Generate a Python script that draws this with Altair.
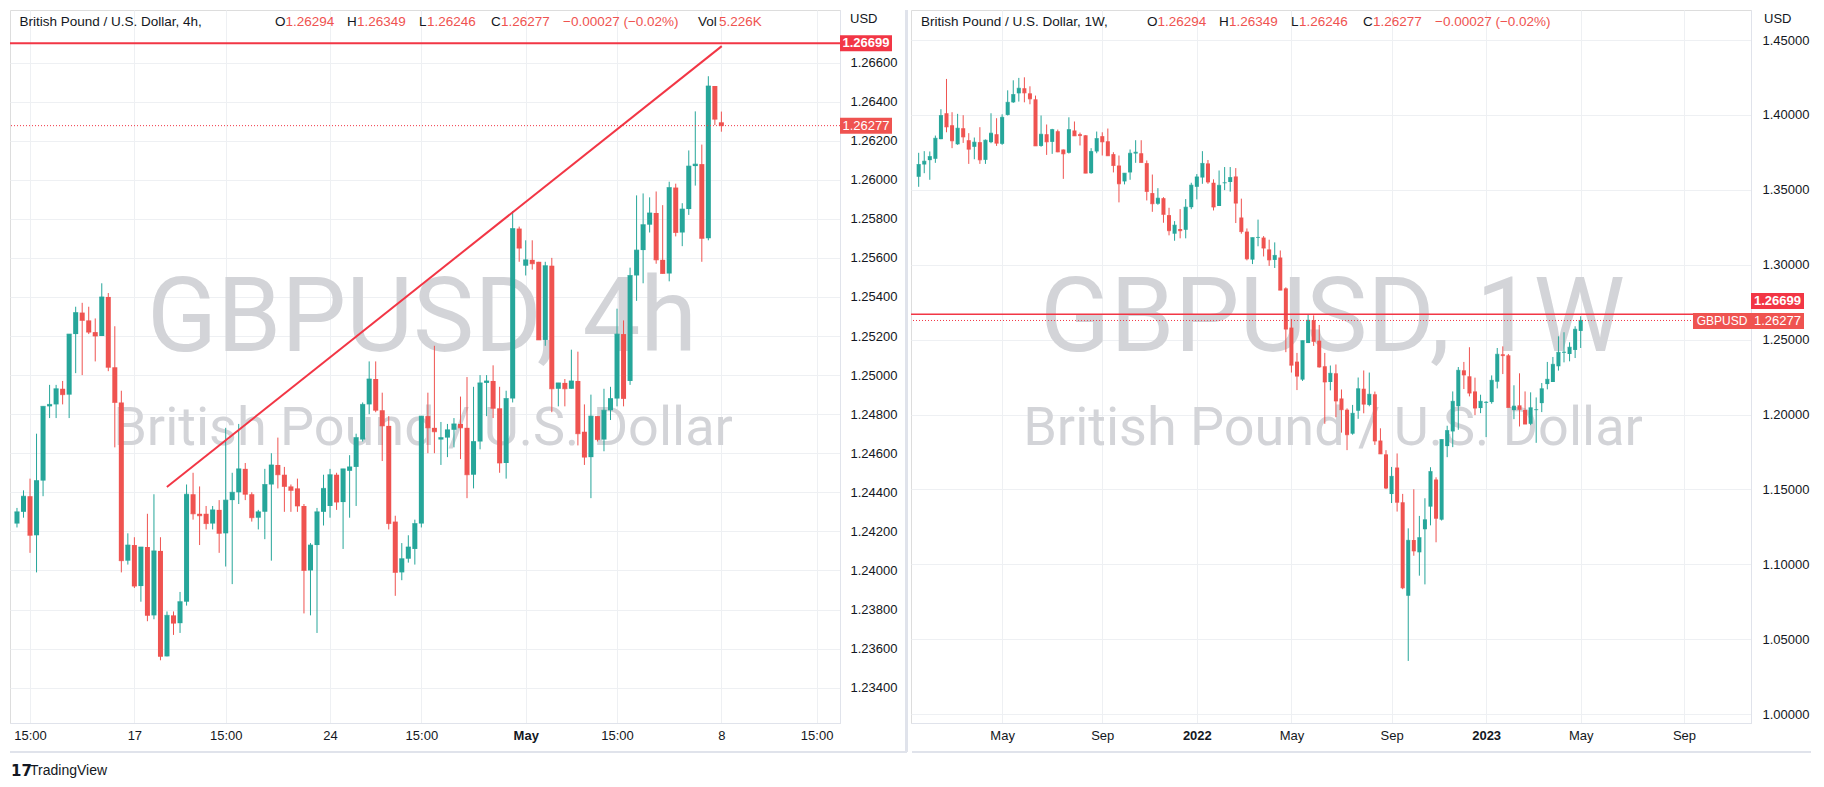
import altair as alt
import pandas as pd

# ---------------- data: GBPUSD 4h (left panel) ----------------
l_open = [1.2424,1.2430,1.2438,1.2418,1.2446,1.2484,1.2485,1.2493,1.2490,1.2521,
          1.2532,1.2528,1.2522,1.2520,1.2540,1.2504,1.2486,1.2405,1.2413,1.2392,
          1.2412,1.2377,1.2410,1.2356,1.2377,1.2373,1.2384,1.2439,1.2429,1.2429,
          1.2424,1.2431,1.2419,1.2436,1.2440,1.2452,1.2439,1.2427,1.2430,1.2444,
          1.2454,1.2449,1.2443,1.2442,1.2433,1.2400,1.2413,1.2430,1.2433,1.2449,
          1.2435,1.2451,1.2453,1.2467,1.2485,1.2498,1.2482,1.2474,1.2425,1.2399,
          1.2406,1.2411,1.2424,1.2479,1.2473,1.2467,1.2468,1.2472,1.2475,1.2473,
          1.2449,1.2466,1.2496,1.2497,1.2483,1.2455,1.2488,1.2575,1.2556,1.2559,
          1.2558,1.2518,1.2556,1.2493,1.2496,1.2493,1.2497,1.2471,1.2458,1.2479,
          1.2467,1.2482,1.2488,1.2521,1.2497,1.2551,1.2564,1.2577,1.2583,1.2559,
          1.2552,1.2596,1.2573,1.2585,1.2607,1.2608,1.2570,1.2648,1.26294]
l_high = [1.2432,1.2441,1.2447,1.2470,1.2484,1.2495,1.2495,1.2497,1.2521,1.2535,
          1.2537,1.2535,1.2529,1.2547,1.2542,1.2525,1.2492,1.2419,1.2417,1.2412,
          1.2429,1.2439,1.2417,1.2379,1.2379,1.2389,1.2444,1.2450,1.2443,1.2433,
          1.2433,1.2436,1.2473,1.2450,1.2475,1.2455,1.2440,1.2431,1.2452,1.2460,
          1.2468,1.2453,1.2444,1.2447,1.2434,1.2414,1.2432,1.2449,1.2452,1.2450,
          1.2452,1.2459,1.2470,1.2486,1.2507,1.2507,1.2491,1.2479,1.2428,1.2414,
          1.2418,1.2426,1.2479,1.2491,1.2515,1.2476,1.2475,1.2478,1.2489,1.2499,
          1.2494,1.2500,1.2500,1.2505,1.2494,1.2492,1.2584,1.2576,1.2569,1.2569,
          1.2558,1.2558,1.2560,1.2496,1.2498,1.2513,1.2512,1.2485,1.2490,1.2479,
          1.2493,1.2494,1.2534,1.2528,1.2555,1.2592,1.2593,1.2591,1.2594,1.2587,
          1.2599,1.2598,1.2588,1.2615,1.2635,1.2618,1.2653,1.2648,1.26349]
l_low = [1.2422,1.2427,1.2409,1.2399,1.2438,1.2478,1.2478,1.2485,1.2478,1.2501,
         1.2500,1.2521,1.2507,1.2520,1.2502,1.2463,1.2399,1.2403,1.2391,1.2384,
         1.2374,1.2375,1.2354,1.2356,1.2367,1.2368,1.2382,1.2426,1.2413,1.2421,
         1.2421,1.2409,1.2402,1.2393,1.2434,1.2436,1.2425,1.2421,1.2416,1.2405,
         1.2442,1.2430,1.2430,1.2430,1.2378,1.2377,1.2368,1.2423,1.2427,1.2431,
         1.2411,1.2427,1.2433,1.2466,1.2480,1.2481,1.2456,1.2421,1.2387,1.2395,
         1.2404,1.2403,1.2422,1.2460,1.2460,1.2454,1.2458,1.2463,1.2457,1.2437,
         1.2442,1.2462,1.2479,1.2478,1.2450,1.2447,1.2486,1.2558,1.2551,1.2554,
         1.2518,1.2515,1.2481,1.2484,1.2484,1.2493,1.2464,1.2454,1.2437,1.2466,
         1.2461,1.2477,1.2484,1.2484,1.2495,1.2538,1.2547,1.2573,1.2557,1.2552,
         1.2548,1.2571,1.2566,1.2582,1.2597,1.2558,1.2569,1.2628,1.26246]
l_close = [1.2430,1.2438,1.2418,1.2446,1.2484,1.2485,1.2493,1.2490,1.2521,1.2532,
           1.2528,1.2522,1.2520,1.2540,1.2504,1.2486,1.2405,1.2413,1.2392,1.2412,
           1.2377,1.2410,1.2356,1.2377,1.2373,1.2384,1.2439,1.2429,1.2428,1.2424,
           1.2431,1.2419,1.2436,1.2440,1.2452,1.2439,1.2427,1.2430,1.2444,1.2454,
           1.2449,1.2443,1.2441,1.2433,1.2400,1.2413,1.2430,1.2442,1.2449,1.2435,
           1.2452,1.2453,1.2468,1.2485,1.2498,1.2482,1.2474,1.2424,1.2399,1.2406,
           1.2412,1.2424,1.2479,1.2473,1.2471,1.2468,1.2472,1.2475,1.2473,1.2449,
           1.2466,1.2496,1.2497,1.2483,1.2455,1.2488,1.2575,1.2565,1.2559,1.2557,
           1.2518,1.2556,1.2493,1.2496,1.2493,1.2497,1.2470,1.2458,1.2479,1.2467,
           1.2482,1.2488,1.2521,1.2488,1.2551,1.2564,1.2577,1.2583,1.2559,1.2552,
           1.2596,1.2573,1.2585,1.2607,1.2608,1.2570,1.2648,1.2631,1.26277]
l_tick_pos = [2, 18, 32, 48, 62, 78, 92, 108, 122.6]
l_tick_lab = ["15:00", "17", "15:00", "24", "15:00", "May", "15:00", "8", "15:00"]
l_price_ticks = [1.234, 1.236, 1.238, 1.240, 1.242, 1.244, 1.246, 1.248, 1.250,
                 1.252, 1.254, 1.256, 1.258, 1.260, 1.262, 1.264, 1.266]
trend_i = [22.98, 108.06]
trend_p = [1.24427, 1.26684]

# ---------------- data: GBPUSD 1W (right panel) ----------------
w_start = "2021-01-18"
w_open = [1.3587,1.3669,1.3698,1.3707,1.3838,1.4011,1.3931,1.3804,1.3911,1.3831,
          1.3787,1.3818,1.3700,1.3818,1.3871,1.3807,1.4000,1.4084,1.4144,1.4178,
          1.4144,1.4104,1.3793,1.3871,1.3820,1.3891,1.3769,1.3747,1.3896,1.3871,
          1.3864,1.3611,1.3756,1.3858,1.3824,1.3738,1.3662,1.3556,1.3616,1.3742,
          1.3744,1.3678,1.3478,1.3407,1.3444,1.3331,1.3207,1.3238,1.3233,1.3384,
          1.3520,1.3582,1.3676,1.3547,1.3392,1.3545,1.3552,1.3589,1.3315,1.3221,
          1.3034,1.3180,1.3181,1.3102,1.3032,1.3048,1.2842,1.2580,1.2353,1.2233,
          1.2477,1.2629,1.2493,1.2322,1.2217,1.2275,1.2107,1.2032,1.1872,1.2025,
          1.2172,1.2064,1.2135,1.1826,1.1734,1.1469,1.1646,1.1414,1.0790,1.1162,
          1.1080,1.1234,1.1385,1.1566,1.1298,1.1789,1.1887,1.2056,1.2295,1.2255,
          1.2154,1.2043,1.2078,1.2083,1.2219,1.2402,1.2395,1.2030,1.2061,1.2030,
          1.1938,1.2030,1.2076,1.2203,1.2217,1.2322,1.2413,1.2404,1.2431,1.2558]
w_high = [1.3747,1.3758,1.3756,1.3862,1.4038,1.4240,1.4018,1.4007,1.3998,1.3878,
          1.3849,1.3918,1.3836,1.4011,1.3978,1.4004,1.4164,1.4231,1.4247,1.4251,
          1.4191,1.4129,1.3996,1.3936,1.3907,1.3902,1.3769,1.3984,1.3956,1.3882,
          1.3864,1.3778,1.3889,1.3884,1.3909,1.3751,1.3729,1.3611,1.3769,1.3831,
          1.3831,1.3696,1.3602,1.3511,1.3451,1.3380,1.3291,1.3371,1.3438,1.3547,
          1.3605,1.3758,1.3699,1.3570,1.3629,1.3652,1.3652,1.3645,1.3441,1.3242,
          1.3181,1.3301,1.3191,1.3167,1.3149,1.3095,1.2849,1.2638,1.2411,1.2493,
          1.2669,1.2662,1.2598,1.2411,1.2327,1.2334,1.2167,1.2041,1.2064,1.2247,
          1.2294,1.2280,1.2153,1.1908,1.1762,1.1650,1.1740,1.1470,1.1240,1.1501,
          1.1323,1.1441,1.1648,1.1581,1.1833,1.1925,1.2154,1.2317,1.2351,1.2449,
          1.2246,1.2132,1.2089,1.2261,1.2444,1.2455,1.2404,1.2195,1.2275,1.2154,
          1.2148,1.2114,1.2210,1.2351,1.2384,1.2522,1.2549,1.2482,1.2589,1.2656]
w_low = [1.3520,1.3611,1.3567,1.3680,1.3838,1.3884,1.3778,1.3800,1.3813,1.3673,
         1.3704,1.3673,1.3673,1.3811,1.3793,1.3800,1.3996,1.4080,1.4089,1.4084,
         1.4071,1.3793,1.3787,1.3733,1.3740,1.3751,1.3573,1.3742,1.3860,1.3796,
         1.3611,1.3607,1.3744,1.3729,1.3727,1.3616,1.3416,1.3536,1.3567,1.3680,
         1.3682,1.3429,1.3353,1.3400,1.3280,1.3196,1.3160,1.3176,1.3176,1.3371,
         1.3436,1.3540,1.3540,1.3362,1.3392,1.3498,1.3488,1.3278,1.3207,1.3029,
         1.3004,1.3123,1.3055,1.2992,1.2978,1.2830,1.2416,1.2280,1.2163,1.2224,
         1.2477,1.2458,1.2313,1.1938,1.2161,1.1982,1.1879,1.1762,1.1865,1.1971,
         1.2008,1.2055,1.1797,1.1737,1.1502,1.1409,1.1352,1.0834,1.0355,1.1057,
         1.0924,1.0866,1.1260,1.1147,1.1292,1.1715,1.1782,1.1898,1.2170,1.2121,
         1.1996,1.2009,1.1849,1.2072,1.2174,1.2270,1.2047,1.1969,1.1920,1.1936,
         1.1929,1.1811,1.2016,1.2168,1.2217,1.2293,1.2348,1.2355,1.2377,1.2444]
w_close = [1.3669,1.3691,1.3722,1.3844,1.3996,1.3920,1.3827,1.3911,1.3853,1.3771,
           1.3818,1.3700,1.3831,1.3878,1.3811,1.3984,1.4084,1.4136,1.4178,1.4147,
           1.4107,1.3793,1.3871,1.3820,1.3902,1.3753,1.3740,1.3902,1.3860,1.3862,
           1.3611,1.3756,1.3842,1.3820,1.3727,1.3662,1.3540,1.3611,1.3744,1.3751,
           1.3682,1.3489,1.3407,1.3444,1.3336,1.3227,1.3264,1.3227,1.3384,1.3531,
           1.3586,1.3676,1.3552,1.3385,1.3530,1.3547,1.3582,1.3411,1.3221,1.3039,
           1.3181,1.3182,1.3111,1.3032,1.3062,1.2830,1.2570,1.2329,1.2256,1.2493,
           1.2629,1.2488,1.2317,1.2217,1.2275,1.2090,1.2032,1.1865,1.2008,1.2172,
           1.2069,1.2135,1.1823,1.1737,1.1509,1.1587,1.1414,1.0843,1.1160,1.1089,
           1.1178,1.1298,1.1619,1.1307,1.1833,1.1893,1.2088,1.2295,1.2264,1.2143,
           1.2043,1.2088,1.2082,1.2228,1.2402,1.2393,1.2047,1.2056,1.2034,1.1936,
           1.2045,1.2032,1.2172,1.2235,1.2335,1.2415,1.2416,1.2449,1.2569,1.2628]
w_price_ticks = [1.00, 1.05, 1.10, 1.15, 1.20, 1.25, 1.30, 1.35, 1.40, 1.45]
w_tick_dates = [(2021, 5, 3), (2021, 9, 6), (2022, 1, 3), (2022, 5, 2),
                (2022, 9, 5), (2023, 1, 2), (2023, 5, 1), (2023, 9, 8)]

LEVEL = 1.26699
LAST = 1.26277

# ---------------- style ----------------
GREEN = "#26a69a"
RED = "#ef5350"
LINE_RED = "#f23645"
TXT = "#131722"
GRID = "#eef0f3"
BORDER = "#e0e3eb"
WM = "#d3d4d8"
FONT = "Liberation Sans"
WMFONT = "Roboto"
HS = 13.5  # header font size

LW, LH = 830, 713
RW, RH = 840, 713

one = pd.DataFrame({"a": [0]})


def txt(s, x, y, color=TXT, size=13, align="left", weight="normal", font=FONT, baseline="middle"):
    return alt.Chart(one).mark_text(text=s, align=align, baseline=baseline, fontSize=size,
                                    color=color, font=font, fontWeight=weight).encode(
        x=alt.value(x), y=alt.value(y))


def box(x1, x2, y1, y2, color=RED):
    return alt.Chart(one).mark_rect(color=color).encode(
        x=alt.value(x1), x2=alt.value(x2), y=alt.value(y1), y2=alt.value(y2))


def hline(x1, x2, y, color=BORDER, width=1):
    return alt.Chart(one).mark_rule(color=color, strokeWidth=width).encode(
        x=alt.value(x1), x2=alt.value(x2), y=alt.value(y))


def vline(x, y1, y2, color=BORDER, width=1):
    return alt.Chart(one).mark_rule(color=color, strokeWidth=width).encode(
        x=alt.value(x), y=alt.value(y1), y2=alt.value(y2))


def ohlc_header(x0, step, y, vol=None):
    # letter, value pairs laid out as in the TradingView legend
    items = []
    pairs = [("O", "1.26294", 10.5), ("H", "1.26349", 10.0), ("L", "1.26246", 8.0), ("C", "1.26277", 10.0)]
    for k, (letter, val, w) in enumerate(pairs):
        x = x0 + k * step
        items.append(txt(letter, x, y, size=HS))
        items.append(txt(val, x + w, y, color=RED, size=HS))
    items.append(txt("\u22120.00027 (\u22120.02%)", x0 + 4 * step, y, color=RED, size=HS))
    if vol is not None:
        items.append(txt("Vol", vol, y, size=HS))
        items.append(txt("5.226K", vol + 21, y, color=RED, size=HS))
    return items


color_enc = alt.Color("dir:N", scale=alt.Scale(domain=["up", "down"], range=[GREEN, RED]), legend=None)

# ---------------- left panel ----------------
left_df = pd.DataFrame({"i": list(range(len(l_open))), "open": l_open, "high": l_high,
                        "low": l_low, "close": l_close})
left_df["dir"] = ["up" if c >= o else "down" for o, c in zip(l_open, l_close)]

l_xscale = alt.Scale(domain=[-0.303, 125.42], nice=False, zero=False)
l_yscale = alt.Scale(domain=[1.23219, 1.26869], nice=False, zero=False)
lab_arr = "[" + ",".join("'%s'" % s for s in l_tick_lab) + "]"
pos_arr = "[" + ",".join(str(p) for p in l_tick_pos) + "]"
l_xaxis = alt.Axis(values=l_tick_pos, labelExpr=lab_arr + "[indexof(" + pos_arr + ", datum.value)]",
                   title=None, grid=True, gridColor=GRID, ticks=False, domainColor=BORDER,
                   labelPadding=6, labelFlush=False, labelFontSize=13, labelColor=TXT, labelFont=FONT,
                   labelFontWeight={"condition": {"test": "datum.value == 78", "value": "bold"}, "value": "normal"})
l_yaxis = alt.Axis(orient="right", values=l_price_ticks, format=".5f", title=None, grid=True,
                   gridColor=GRID, ticks=False, domainColor=BORDER, labelPadding=10,
                   labelFontSize=13, labelColor=TXT, labelFont=FONT)


def LX(f):
    return alt.X(f, type="quantitative", scale=l_xscale, axis=l_xaxis)


def LY(f):
    return alt.Y(f, type="quantitative", scale=l_yscale, axis=l_yaxis)


lbase = alt.Chart(left_df)
l_wicks = lbase.mark_rule(strokeWidth=1, clip=True).encode(x=LX("i"), y=LY("low"), y2="high", color=color_enc)
l_bodies = lbase.mark_bar(size=5, clip=True).encode(x=LX("i"), y=LY("open"), y2="close", color=color_enc)
l_ticks = lbase.mark_tick(orient="horizontal", size=5, thickness=1, clip=True).encode(
    x=LX("i"), y=LY("close"), color=color_enc)

trend_df = pd.DataFrame({"i": trend_i, "p": trend_p})
l_trend = alt.Chart(trend_df).mark_line(color=LINE_RED, strokeWidth=2).encode(x=LX("i"), y=LY("p"))

lvl_df = pd.DataFrame({"p": [LEVEL]})
last_df = pd.DataFrame({"p": [LAST]})
l_level = alt.Chart(lvl_df).mark_rule(color=LINE_RED, strokeWidth=2).encode(y=LY("p"))
l_last = alt.Chart(last_df).mark_rule(color=LINE_RED, strokeWidth=1, strokeDash=[1, 2]).encode(y=LY("p"))
l_lvl_box = alt.Chart(lvl_df).mark_rect(color=LINE_RED, yOffset=-8, y2Offset=8).encode(
    x=alt.value(LW), x2=alt.value(LW + 52), y=LY("p"), y2="p")
l_lvl_txt = alt.Chart(lvl_df).mark_text(color="white", fontSize=13, font=FONT, align="center",
                                        baseline="middle", fontWeight="bold").encode(
    x=alt.value(LW + 26), y=LY("p"), text=alt.Text("p:Q", format=".5f"))
l_last_box = alt.Chart(last_df).mark_rect(color=RED, yOffset=-8, y2Offset=8).encode(
    x=alt.value(LW), x2=alt.value(LW + 52), y=LY("p"), y2="p")
l_last_txt = alt.Chart(last_df).mark_text(color="white", fontSize=13, font=FONT, align="center",
                                          baseline="middle").encode(
    x=alt.value(LW + 26), y=LY("p"), text=alt.Text("p:Q", format=".5f"))

left_layers = [
    txt("GBPUSD, 4h", 412, 341, color=WM, size=103, align="center", font=WMFONT, baseline="alphabetic"),
    txt("British Pound / U.S. Dollar", 413, 435, color=WM, size=54, align="center", font=WMFONT,
        baseline="alphabetic"),
    l_wicks, l_bodies, l_ticks, l_trend, l_level, l_last, l_lvl_box, l_lvl_txt, l_last_box, l_last_txt,
    txt("British Pound / U.S. Dollar, 4h,", 9.5, 12, size=HS),
    *ohlc_header(265, 72, 12, vol=688),
    txt("USD", 840, 9),
    vline(896.5, 0, 742, width=3),
    hline(0, 897, 742, width=2),
    txt("17", 1, 761, size=15, weight="bold", font="DejaVu Sans"),
    txt("TradingView", 20, 761, size=14),
]
left = alt.layer(*left_layers).properties(width=LW, height=LH)

# ---------------- right panel ----------------
w_dates = pd.date_range(w_start, periods=len(w_open), freq="7D").strftime("%Y-%m-%d")
right_df = pd.DataFrame({"date": w_dates, "open": w_open, "high": w_high, "low": w_low, "close": w_close})
right_df["dir"] = ["up" if c >= o else "down" for o, c in zip(w_open, w_close)]

r_xscale = alt.Scale(type="utc", domain=[alt.DateTime(year=2021, month=1, date=14, hours=15, utc=True),
                                         alt.DateTime(year=2023, month=11, date=25, utc=True)])
r_yscale = alt.Scale(domain=[0.99406, 1.47003], nice=False, zero=False)
r_xaxis = alt.Axis(values=[alt.DateTime(year=y, month=m, date=d, utc=True) for (y, m, d) in w_tick_dates],
                   labelExpr="utcmonth(datum.value) == 0 ? utcFormat(datum.value, '%Y') : utcFormat(datum.value, '%b')",
                   title=None, grid=True, gridColor=GRID, ticks=False, domainColor=BORDER,
                   labelPadding=6, labelFlush=False, labelFontSize=13, labelColor=TXT, labelFont=FONT,
                   labelFontWeight={"condition": {"test": "utcmonth(datum.value) == 0", "value": "bold"},
                                    "value": "normal"})
r_yaxis = alt.Axis(orient="right", values=w_price_ticks, format=".5f", title=None, grid=True,
                   gridColor=GRID, ticks=False, domainColor=BORDER, labelPadding=11,
                   labelFontSize=13, labelColor=TXT, labelFont=FONT)


def RX(f):
    return alt.X(f, type="temporal", scale=r_xscale, axis=r_xaxis)


def RY(f):
    return alt.Y(f, type="quantitative", scale=r_yscale, axis=r_yaxis)


rbase = alt.Chart(right_df)
r_wicks = rbase.mark_rule(strokeWidth=1, clip=True).encode(x=RX("date"), y=RY("low"), y2="high", color=color_enc)
r_bodies = rbase.mark_bar(size=4, clip=True).encode(x=RX("date"), y=RY("open"), y2="close", color=color_enc)
r_ticks = rbase.mark_tick(orient="horizontal", size=4, thickness=1, clip=True).encode(
    x=RX("date"), y=RY("close"), color=color_enc)
r_level = alt.Chart(lvl_df).mark_rule(color=LINE_RED, strokeWidth=1.5).encode(y=RY("p"))
r_last = alt.Chart(last_df).mark_rule(color=LINE_RED, strokeWidth=1, strokeDash=[1, 2]).encode(y=RY("p"))

right_layers = [
    txt("GBPUSD, 1W", 421.5, 341, color=WM, size=103, align="center", font=WMFONT, baseline="alphabetic"),
    txt("British Pound / U.S. Dollar", 422, 435, color=WM, size=54, align="center", font=WMFONT,
        baseline="alphabetic"),
    r_wicks, r_bodies, r_ticks, r_level, r_last,
    box(RW, RW + 53, 283, 299, color=LINE_RED),
    txt("1.26699", RW + 26.5, 291, color="white", align="center", weight="bold"),
    box(RW - 58, RW + 53, 303, 319, color=RED),
    txt("GBPUSD", RW - 29, 311, color="white", align="center", size=12),
    txt("1.26277", RW + 26.5, 311, color="white", align="center"),
    txt("British Pound / U.S. Dollar, 1W,", 10, 12, size=HS),
    *ohlc_header(236, 72, 12),
    txt("USD", 853, 9),
    hline(1, 900, 742, width=2),
]
right = alt.layer(*right_layers).properties(width=RW, height=RH)

chart = alt.hconcat(left, right, spacing=0, padding=0).configure_view(strokeWidth=0).configure(
    background="white")

chart.save("out.html", embed_options={"renderer": "svg", "actions": False})
